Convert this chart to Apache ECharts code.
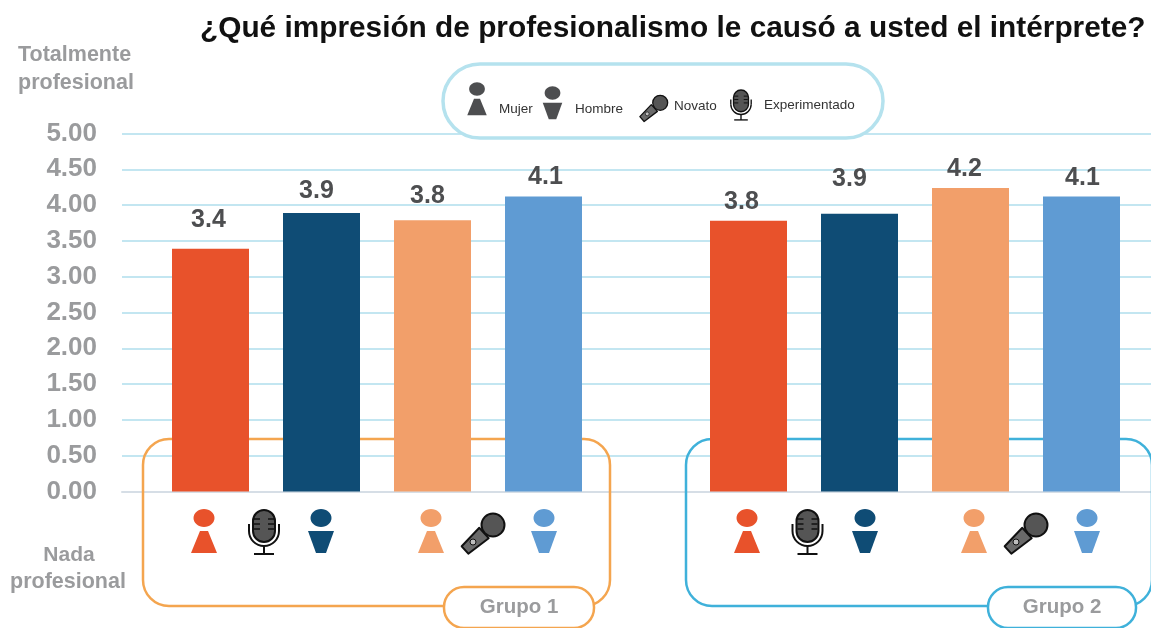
<!DOCTYPE html>
<html>
<head>
<meta charset="utf-8">
<style>html,body{margin:0;padding:0;background:#fff}#c{width:1151px;height:628px}</style>
<script src="https://cdn.jsdelivr.net/npm/echarts@6/dist/echarts.min.js"></script>
</head>
<body>
<div id="c"></div>
<script>
const categories = ['Mujer', 'Hombre', 'Novato', 'Experimentado'];
const grupo1 = [3.39, 3.89, 3.79, 4.12];
const grupo2 = [3.78, 3.88, 4.24, 4.12];
const barColors = ['#E8522B', '#0F4C75', '#F29F6A', '#5F9BD3'];
const titleText = '¿Qué impresión de profesionalismo le causó a usted el intérprete?';
const labelNudge1 = [[-2, -6], [-5, 1], [-5, -2], [2, 3]];
const labelNudge2 = [[-7, 4], [-10, -12], [-6, 4], [1, 4]];
const FONT = '"Liberation Sans", Arial, sans-serif';
const GREY = '#9A9B9D';
const DARK = '#4D4E50';

function person(x, y, color, male, s) {
  s = s || 1;
  const body = male
    ? [[-13, 13], [13, 13], [5, 35], [-5, 35]]
    : [[-4, 13], [4, 13], [13, 35], [-13, 35]];
  return {
    type: 'group', x: x, y: y, scaleX: s, scaleY: s,
    children: [
      { type: 'ellipse', z: 5, shape: { cx: 0, cy: 0, rx: 10.5, ry: 9 }, style: { fill: color } },
      { type: 'polygon', z: 5, shape: { points: body }, style: { fill: color } }
    ]
  };
}
function standMic(x, y, s) {
  s = s || 1;
  const st = { stroke: '#111', lineWidth: 2, fill: 'none' };
  const kids = [
    { type: 'rect', z: 5, shape: { x: -11, y: 0, width: 22, height: 32, r: 11 }, style: { fill: '#555', stroke: '#111', lineWidth: 2 } },
    { type: 'arc', z: 5, shape: { cx: 0, cy: 21, r: 15, startAngle: 0, endAngle: Math.PI, clockwise: true }, style: st },
    { type: 'line', z: 5, shape: { x1: -15, y1: 14, x2: -15, y2: 21 }, style: st },
    { type: 'line', z: 5, shape: { x1: 15, y1: 14, x2: 15, y2: 21 }, style: st },
    { type: 'line', z: 5, shape: { x1: 0, y1: 36, x2: 0, y2: 44 }, style: st },
    { type: 'line', z: 5, shape: { x1: -10, y1: 44, x2: 10, y2: 44 }, style: st }
  ];
  [9, 14, 19].forEach(function (v) {
    kids.push({ type: 'line', z: 6, shape: { x1: -10, y1: v, x2: -4, y2: v }, style: { stroke: '#111', lineWidth: 1.5 } });
    kids.push({ type: 'line', z: 6, shape: { x1: 4, y1: v, x2: 10, y2: v }, style: { stroke: '#111', lineWidth: 1.5 } });
  });
  return { type: 'group', x: x, y: y, scaleX: s, scaleY: s, children: kids };
}
function handMic(x, y, s) {
  s = s || 1;
  return {
    type: 'group', x: x, y: y, scaleX: s, scaleY: s,
    children: [
      { type: 'polygon', z: 5, shape: { points: [[3.7, 5.2], [-5.7, -5.2], [-23.3, 13.3], [-16.7, 20.7]] }, style: { fill: '#6A6A6A', stroke: '#111', lineWidth: 2, lineJoin: 'round' } },
      { type: 'circle', z: 6, shape: { cx: -12, cy: 9, r: 3 }, style: { fill: '#BDBDBD', stroke: '#111', lineWidth: 1 } },
      { type: 'circle', z: 6, shape: { cx: 8, cy: -8, r: 11.5 }, style: { fill: '#555', stroke: '#111', lineWidth: 2 } }
    ]
  };
}
function txt(x, y, t, size, color, weight, align) {
  return { type: 'text', x: x, y: y, z: 6, style: { text: t, fontFamily: FONT, fontSize: size, fontWeight: weight || 'normal', fill: color, align: align || 'left', verticalAlign: 'middle' } };
}
function frame(x, y, w, h, r, color) {
  return { type: 'rect', z: 1, shape: { x: x, y: y, width: w, height: h, r: r }, style: { fill: 'none', stroke: color, lineWidth: 2.5 } };
}
function pill(x, y, w, h, color, label) {
  return [
    { type: 'rect', z: 4, shape: { x: x, y: y, width: w, height: h, r: 20 }, style: { fill: '#fff', stroke: color, lineWidth: 2.5 } },
    txt(x + w / 2, y + 20, label, 20.5, GREY, 'bold', 'center')
  ];
}
function hiddenAxes(idx) {
  return {
    x: { type: 'category', gridIndex: idx, data: categories, show: false },
    y: { type: 'value', gridIndex: idx, min: 0, max: 5, show: false }
  };
}
function barSeries(idx, values, nudges) {
  return {
    type: 'bar', xAxisIndex: idx, yAxisIndex: idx, barWidth: 77, z: 3,
    data: values.map(function (v, i) {
      return { value: v, itemStyle: { color: barColors[i] }, label: { offset: nudges[i] } };
    }),
    label: {
      show: true, position: 'top', distance: 10, color: DARK, fontFamily: FONT, fontSize: 25, fontWeight: 'bold',
      formatter: function (p) { return p.value.toFixed(1); }
    }
  };
}
const h1 = hiddenAxes(1), h2 = hiddenAxes(2);
const gridTop = 133.5, gridBottom = 628 - 491.5;
const option = {
  animation: false,
  backgroundColor: '#fff',
  title: {
    text: titleText, left: 195, top: 9,
    textStyle: { fontFamily: FONT, fontSize: 29.8, fontWeight: 'bold', color: '#111' }
  },
  grid: [
    { left: 122, right: 0, top: gridTop, bottom: gridBottom },
    { left: 155, width: 444, top: gridTop, bottom: gridBottom },
    { left: 693, width: 444, top: gridTop, bottom: gridBottom }
  ],
  xAxis: [
    { type: 'value', gridIndex: 0, min: 0, max: 1, axisLabel: { show: false }, axisTick: { show: false }, splitLine: { show: false }, axisLine: { show: true, onZero: false, lineStyle: { color: '#D6DEE6', width: 2 } } },
    h1.x, h2.x
  ],
  yAxis: [
    {
      type: 'value', gridIndex: 0, min: 0, max: 5, interval: 0.5,
      axisLine: { show: false }, axisTick: { show: false },
      splitLine: { lineStyle: { color: '#C3E6F1', width: 2 } },
      axisLabel: { margin: 25, color: GREY, fontFamily: FONT, fontSize: 26, fontWeight: 'bold', formatter: function (v) { return v.toFixed(2); } }
    },
    h1.y, h2.y
  ],
  series: [barSeries(1, grupo1, labelNudge1), barSeries(2, grupo2, labelNudge2)],
  graphic: [
    frame(143, 439, 467, 167, 26, '#F4A54F'),
    frame(686, 439, 466, 167, 26, '#3FB1DA')
  ].concat(
    pill(444, 587, 150, 41, '#F4A54F', 'Grupo 1'),
    pill(988, 587, 148, 41, '#3FB1DA', 'Grupo 2'),
    [
      txt(18, 55, 'Totalmente', 21.5, GREY, 'bold'),
      txt(18, 83, 'profesional', 21.5, GREY, 'bold'),
      txt(69, 555, 'Nada', 21, GREY, 'bold', 'center'),
      txt(10, 582, 'profesional', 21.5, GREY, 'bold'),
      { type: 'rect', z: 4, shape: { x: 443, y: 64, width: 440, height: 74, r: 37 }, style: { fill: '#fff', stroke: '#B5E2EE', lineWidth: 3.5 } },
      txt(499, 109, 'Mujer', 13.5, '#333'),
      txt(575, 109, 'Hombre', 13.5, '#333'),
      txt(674, 106, 'Novato', 13.5, '#333'),
      txt(764, 105, 'Experimentado', 13.5, '#333'),
      person(477, 89, DARK, false, 0.75),
      person(552.5, 93, DARK, true, 0.75),
      handMic(655, 108, 0.65),
      standMic(741, 90, 0.68),
      person(204, 518, barColors[0], false),
      standMic(264, 510),
      person(321, 518, barColors[1], true),
      person(431, 518, barColors[2], false),
      handMic(485, 533),
      person(544, 518, barColors[3], true),
      person(747, 518, barColors[0], false),
      standMic(807.5, 510),
      person(865, 518, barColors[1], true),
      person(974, 518, barColors[2], false),
      handMic(1028, 533),
      person(1087, 518, barColors[3], true)
    ]
  )
};
echarts.init(document.getElementById('c'), null, { renderer: 'canvas' }).setOption(option);
</script>
</body>
</html>
